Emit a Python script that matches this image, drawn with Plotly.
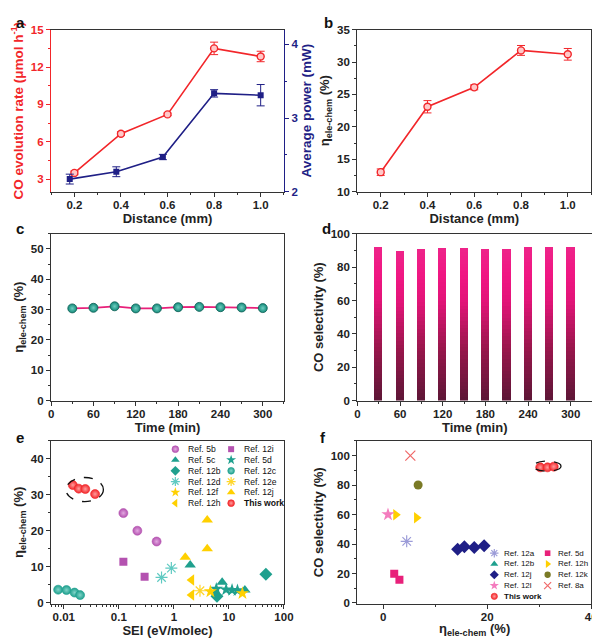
import plotly.graph_objects as go

# ---------------- data ----------------
# (a) CO evolution rate and average power vs distance
dist = [0.2, 0.4, 0.6, 0.8, 1.0]
co_rate = [3.5, 6.65, 8.2, 13.5, 12.85]
co_rate_err = [0.15, 0.15, 0.1, 0.5, 0.42]
power_dist = [0.18, 0.38, 0.58, 0.8, 1.0]
power = [2.17, 2.27, 2.47, 3.335, 3.31]
power_err = [0.067, 0.067, 0.036, 0.05, 0.145]

# (b) energy efficiency vs distance
eta_dist = [13.0, 23.1, 26.1, 31.8, 31.2]
eta_dist_err = [0.5, 0.95, 0.38, 0.76, 0.9]

# (c), (d) stability over time
time_min = [30, 60, 90, 120, 150, 180, 210, 240, 270, 300]
eta_time = [30.4, 30.6, 31.1, 30.4, 30.4, 30.8, 30.9, 30.8, 30.7, 30.5]
co_sel = [92.5, 90.0, 91.0, 91.8, 91.4, 91.2, 90.8, 92.5, 92.0, 92.0]

# (e) efficiency vs SEI
e_5b_x = [0.121, 0.217, 0.486];   e_5b_y = [24.9, 20.0, 17.0]
e_12i_x = [0.121, 0.294];         e_12i_y = [11.4, 7.2]
e_5c_x = [1.98, 7.54, 19.5];      e_5c_y = [10.5, 5.7, 3.5]
e_5d_x = [5.9, 8.9, 11.4, 14.3];  e_5d_y = [3.8, 3.6, 3.5, 3.4]
e_12b_x = [6.07, 46.9];           e_12b_y = [1.8, 7.9]
e_12c_x = [0.0079, 0.0112, 0.0157, 0.0198]; e_12c_y = [3.6, 3.5, 2.8, 2.1]
e_12d_x = [0.597, 0.9];           e_12d_y = [7.0, 9.6]
e_12e_x = [2.98];                 e_12e_y = [3.3]
e_12f_x = [4.61, 17.6];           e_12f_y = [3.1, 2.6]
e_12j_x = [1.61, 4.04, 4.04];     e_12j_y = [12.6, 23.0, 15.0]
e_12h_x = [2.1, 2.1];             e_12h_y = [6.3, 2.1]
e_tw_x = [0.0146, 0.0187, 0.0246, 0.037]; e_tw_y = [32.7, 31.7, 31.6, 30.2]

# (f) CO selectivity vs efficiency
f_12a_x = [4.5];                  f_12a_y = [41.8]
f_5d_x = [2.1, 3.1];              f_5d_y = [19.8, 15.8]
f_12b_x = [];                     f_12b_y = []
f_12h_x = [2.4, 6.4];             f_12h_y = [59.8, 57.8]
f_12j_x = [14.3, 15.6, 17.5, 19.4]; f_12j_y = [36.4, 38.2, 37.6, 38.8]
f_12k_x = [6.7];                  f_12k_y = [80.0]
f_12l_x = [0.9];                  f_12l_y = [60.0]
f_8a_x = [5.2];                   f_8a_y = [100.0]
f_tw_x = [30.2, 31.6, 32.8];      f_tw_y = [92.0, 92.0, 92.5]

e_legend = ['Ref. 5b', 'Ref. 12i', 'Ref. 5c', 'Ref. 5d', 'Ref. 12b', 'Ref. 12c',
            'Ref. 12d', 'Ref. 12e', 'Ref. 12f', 'Ref. 12j', 'Ref. 12h', 'This work']
f_legend = ['Ref. 12a', 'Ref. 5d', 'Ref. 12b', 'Ref. 12h', 'Ref. 12j', 'Ref. 12k',
            'Ref. 12l', 'Ref. 8a', 'This work']

# ---------------- styles ----------------
FONT = 'Liberation Sans'
RED = '#f2262a'
NAVY = '#1f1f86'
TEAL = '#1fa08e'
YEL = '#ffd000'
PURP = '#b452b0'
PINK = '#e8207a'
AXC = '#333333'
TXT = '#222222'

W, H = 600, 639


def px_dom_x(a, b):
    return [a / W, b / W]


def px_dom_y(top, bottom):
    return [1 - bottom / H, 1 - top / H]


def sphere(color, light, size, symbol='circle'):
    return dict(symbol=symbol, size=size, color=color,
                gradient=dict(type='radial', color=light),
                line=dict(width=0.6, color=color))


e_style = {
    'Ref. 5b': sphere(PURP, '#e2a8e0', 9),
    'Ref. 12i': dict(symbol='square', size=8, color=PURP),
    'Ref. 5c': dict(symbol='triangle-up', size=10, color=TEAL),
    'Ref. 5d': dict(symbol='star', size=10, color=TEAL),
    'Ref. 12b': dict(symbol='diamond', size=10, color=TEAL),
    'Ref. 12c': sphere(TEAL, '#80d4c8', 9),
    'Ref. 12d': dict(symbol='asterisk-open', size=10, color='#5fcac2',
                     line=dict(width=1.2, color='#5fcac2')),
    'Ref. 12e': dict(symbol='asterisk-open', size=10, color='#ffd62a',
                     line=dict(width=1.2, color='#ffd62a')),
    'Ref. 12f': dict(symbol='star', size=10, color=YEL),
    'Ref. 12j': dict(symbol='triangle-up', size=10, color=YEL),
    'Ref. 12h': dict(symbol='triangle-left', size=10, color=YEL),
    'This work': sphere(RED, '#ff9c9c', 9),
}
e_data = {
    'Ref. 5b': (e_5b_x, e_5b_y), 'Ref. 12i': (e_12i_x, e_12i_y),
    'Ref. 5c': (e_5c_x, e_5c_y), 'Ref. 5d': (e_5d_x, e_5d_y),
    'Ref. 12b': (e_12b_x, e_12b_y), 'Ref. 12c': (e_12c_x, e_12c_y),
    'Ref. 12d': (e_12d_x, e_12d_y), 'Ref. 12e': (e_12e_x, e_12e_y),
    'Ref. 12f': (e_12f_x, e_12f_y), 'Ref. 12j': (e_12j_x, e_12j_y),
    'Ref. 12h': (e_12h_x, e_12h_y), 'This work': (e_tw_x, e_tw_y),
}
f_style = {
    'Ref. 12a': dict(symbol='asterisk-open', size=10, color='#9c9cd8',
                     line=dict(width=1.2, color='#9c9cd8')),
    'Ref. 5d': dict(symbol='square', size=8, color=PINK),
    'Ref. 12b': dict(symbol='triangle-up', size=10, color=TEAL),
    'Ref. 12h': dict(symbol='triangle-right', size=10, color=YEL),
    'Ref. 12j': dict(symbol='diamond', size=10, color=NAVY),
    'Ref. 12k': dict(symbol='circle', size=9, color='#7a7a26'),
    'Ref. 12l': dict(symbol='star', size=10, color='#f47cbe'),
    'Ref. 8a': dict(symbol='x-thin-open', size=10, color='#f06a6a',
                    line=dict(width=1.2, color='#f06a6a')),
    'This work': sphere(RED, '#ff9c9c', 9),
}
f_data = {
    'Ref. 12a': (f_12a_x, f_12a_y), 'Ref. 5d': (f_5d_x, f_5d_y),
    'Ref. 12b': (f_12b_x, f_12b_y), 'Ref. 12h': (f_12h_x, f_12h_y),
    'Ref. 12j': (f_12j_x, f_12j_y), 'Ref. 12k': (f_12k_x, f_12k_y),
    'Ref. 12l': (f_12l_x, f_12l_y), 'Ref. 8a': (f_8a_x, f_8a_y),
    'This work': (f_tw_x, f_tw_y),
}

tickfont = dict(family=FONT, size=11.5, color=TXT, weight='bold')
titlefont = dict(family=FONT, size=13, color=TXT, weight='bold')


def axis(domain, anchor, rng, dtick, minor_dtick, title=None, color=AXC,
         tfcolor=TXT, titlecolor=TXT, mirror=True, side=None, standoff=4,
         tsize=13, **kw):
    d = dict(domain=domain, anchor=anchor, range=rng, dtick=dtick, tick0=0,
             showline=True, linecolor=color, linewidth=1.3, mirror=mirror,
             ticks='outside', ticklen=4, tickwidth=1.1, tickcolor=color,
             showgrid=False, zeroline=False,
             tickfont=dict(tickfont, color=tfcolor),
             minor=dict(dtick=minor_dtick, ticks='outside', ticklen=2,
                        tickwidth=1, tickcolor=color, showgrid=False),
             fixedrange=True)
    if title is not None:
        d['title'] = dict(text=title,
                          font=dict(titlefont, color=titlecolor, size=tsize),
                          standoff=standoff)
    if side:
        d['side'] = side
    d.update(kw)
    return d


fig = go.Figure()

# ---- (a) ----
fig.add_trace(go.Scatter(
    x=dist, y=co_rate, mode='lines+markers', xaxis='x', yaxis='y',
    line=dict(color=RED, width=1.6),
    marker=dict(symbol='circle', size=7, color='#ffc8c8',
                line=dict(color=RED, width=1.4)),
    error_y=dict(type='data', array=co_rate_err, color=RED, thickness=1,
                 width=4), showlegend=False))
fig.add_trace(go.Scatter(
    x=power_dist, y=power, mode='lines+markers', xaxis='x', yaxis='y2',
    line=dict(color=NAVY, width=1.6),
    marker=dict(symbol='square', size=6, color=NAVY),
    error_y=dict(type='data', array=power_err, color=NAVY, thickness=1,
                 width=4), showlegend=False))

# ---- (b) ----
fig.add_trace(go.Scatter(
    x=dist, y=eta_dist, mode='lines+markers', xaxis='x3', yaxis='y3',
    line=dict(color=RED, width=1.6),
    marker=dict(symbol='circle', size=7, color='#ffc8c8',
                line=dict(color=RED, width=1.4)),
    error_y=dict(type='data', array=eta_dist_err, color=RED, thickness=1,
                 width=4), showlegend=False))

# ---- (c) ----
fig.add_trace(go.Scatter(
    x=time_min, y=eta_time, mode='lines+markers', xaxis='x4', yaxis='y4',
    line=dict(color=PINK, width=1.8),
    marker=dict(symbol='circle', size=9, color='#138a7a',
                gradient=dict(type='radial', color='#6fcfc1'),
                line=dict(width=0.8, color='#0c5e54')),
    showlegend=False))

# ---- (d) gradient bars (overlapping slices, bottom to top) ----
stops = [(0.0, (0x5c, 0x16, 0x36)), (0.35, (0x9a, 0x16, 0x4c)),
         (0.65, (0xe2, 0x14, 0x78)), (0.82, (0xf0, 0x16, 0x82)),
         (1.0, (0xee, 0x24, 0x8a))]


def grad_color(t):
    for (t0, c0), (t1, c1) in zip(stops[:-1], stops[1:]):
        if t0 <= t <= t1:
            u = (t - t0) / (t1 - t0)
            return 'rgb(%d,%d,%d)' % tuple(round(a + (b - a) * u)
                                            for a, b in zip(c0, c1))
    return 'rgb(%d,%d,%d)' % stops[-1][1]


NSEG = 40
for i in range(NSEG):
    frac = i / NSEG
    fig.add_trace(go.Bar(
        x=time_min, y=[v * (1 - frac) for v in co_sel],
        base=[v * frac for v in co_sel], width=11.5,
        xaxis='x5', yaxis='y5', marker=dict(color=grad_color(frac + 0.5 / NSEG),
                                             line=dict(width=0)),
        showlegend=False, hoverinfo='skip'))

# ---- (e) ----
for name in e_legend:
    xs, ys = e_data[name]
    fig.add_trace(go.Scatter(x=xs, y=ys, mode='markers', name=name,
                             xaxis='x6', yaxis='y6', marker=e_style[name],
                             showlegend=False))

# ---- (f) ----
for name in f_legend:
    xs, ys = f_data[name]
    fig.add_trace(go.Scatter(x=xs, y=ys, mode='markers', name=name,
                             xaxis='x7', yaxis='y7', marker=f_style[name],
                             showlegend=False))

# ---- custom compact legends (2 columns, row-major) ----
annotations = []


def legend_block(names, styles, xa, ya, fsize, shift, msize_scale):
    for i, name in enumerate(names):
        col, row = i % 2, i // 2
        m = dict(styles[name])
        m['size'] = m['size'] * msize_scale
        fig.add_trace(go.Scatter(x=[col], y=[-row], mode='markers',
                                 xaxis=xa, yaxis=ya, marker=m,
                                 showlegend=False, cliponaxis=False,
                                 hoverinfo='skip'))
        txt = '<b>%s</b>' % name if name == 'This work' else name
        annotations.append(dict(x=col, y=-row, xref=xa, yref=ya, text=txt,
                                showarrow=False, xanchor='left',
                                yanchor='middle', xshift=shift,
                                font=dict(family=FONT, size=fsize,
                                          color='#111111')))


legend_block(e_legend, e_style, 'x8', 'y8', 8.6, 11, 0.75)
legend_block(f_legend, f_style, 'x9', 'y9', 8.0, 8, 0.7)

# ---- panel letters ----
for letter, lx, ly in [('a', 3, 9), ('b', 318, 9), ('c', 3, 219),
                       ('d', 316, 219), ('e', 3, 432), ('f', 314, 432)]:
    annotations.append(dict(x=lx / W, y=1 - ly / H, xref='paper', yref='paper',
                            text=letter, showarrow=False, xanchor='left',
                            yanchor='middle',
                            font=dict(family=FONT, size=15, color='#111111',
                                      weight='bold')))

eta_title = 'η<sub>ele-chem</sub> (%)'

# x-title of (f) placed as annotation so the subscript stays inside the page
annotations.append(dict(x=(354 + 593) / 2 / W, y=1 - 638 / H, xref='paper',
                        yref='paper', text=eta_title, showarrow=False,
                        xanchor='center', yanchor='bottom',
                        font=dict(titlefont)))

dom_ax = px_dom_x(41, 279)
dom_bx = px_dom_x(354, 593)
dom_top = px_dom_y(16, 181)
dom_mid = px_dom_y(224, 394)
dom_bot = px_dom_y(435, 601)

XL = dict(ticklabelstandoff=-2)

layout = dict(
    width=W, height=639, autosize=False,
    margin=dict(l=0, r=0, t=0, b=0),
    paper_bgcolor='white', plot_bgcolor='white',
    barmode='overlay', bargap=0,
    font=dict(family=FONT, color=TXT),
    # (a)
    xaxis=axis(dom_ax, 'y', [0.1, 1.1], 0.2, 0.1, 'Distance (mm)',
               tickformat='.1f', **XL),
    yaxis=axis(dom_top, 'x', [2, 15], 3, 1.5,
               'CO evolution rate (μmol h<sup>-1</sup>)', color=RED,
               tfcolor=RED, titlecolor=RED, mirror=False, tsize=13.5),
    yaxis2=axis(dom_top, 'x', [2, 4.2], 1, 0.5, 'Average power (mW)',
                color=NAVY, tfcolor=NAVY, titlecolor=NAVY, mirror=False,
                side='right', overlaying='y', tsize=13.5),
    # (b)
    xaxis3=axis(dom_bx, 'y3', [0.1, 1.1], 0.2, 0.1, 'Distance (mm)',
                tickformat='.1f', **XL),
    yaxis3=axis(dom_top, 'x3', [10, 35], 5, 2.5, eta_title),
    # (c)
    xaxis4=axis(dom_ax, 'y4', [0, 330], 60, 30, 'Time (min)', **XL),
    yaxis4=axis(dom_mid, 'x4', [0, 55], 10, 5, eta_title),
    # (d)
    xaxis5=axis(px_dom_x(354, 594), 'y5', [0, 330], 60, 30, 'Time (min)',
                **XL),
    yaxis5=axis(dom_mid, 'x5', [0, 100], 20, 10, 'CO selectivity (%)'),
    # (e)
    xaxis6=axis(dom_ax, 'y6', [-2.23, 2.0], 1, 'D1', 'SEI (eV/molec)',
                type='log', standoff=2, **XL),
    yaxis6=axis(dom_bot, 'x6', [-0.3, 45], 10, 5, eta_title),
    # (f)
    xaxis7=axis(dom_bx, 'y7', [-5, 40], 20, 10, **XL),
    yaxis7=axis(dom_bot, 'x7', [-0.5, 110], 20, 10, 'CO selectivity (%)'),
    # legend helper axes
    xaxis8=dict(domain=px_dom_x(168, 225), anchor='y8', range=[0, 1],
                visible=False, fixedrange=True),
    yaxis8=dict(domain=px_dom_y(443.5, 498.5), anchor='x8', range=[-5, 0],
                visible=False, fixedrange=True),
    xaxis9=dict(domain=px_dom_x(494, 548.5), anchor='y9', range=[0, 1],
                visible=False, fixedrange=True),
    yaxis9=dict(domain=px_dom_y(549.5, 593.5), anchor='x9', range=[-4, 0],
                visible=False, fixedrange=True),
    annotations=annotations,
    shapes=[
        dict(type='circle', xref='x6', yref='y6', x0=10 ** -1.96,
             x1=10 ** -1.28, y0=28.1, y1=34.8,
             line=dict(color='#111111', width=1.3, dash='dash')),
        dict(type='circle', xref='x7', yref='y7', x0=28.8, x1=34.2,
             y0=89.4, y1=96.2,
             line=dict(color='#111111', width=1.3, dash='dash')),
    ],
    showlegend=False,
)
fig.update_layout(layout)
fig.write_html('out.html')
